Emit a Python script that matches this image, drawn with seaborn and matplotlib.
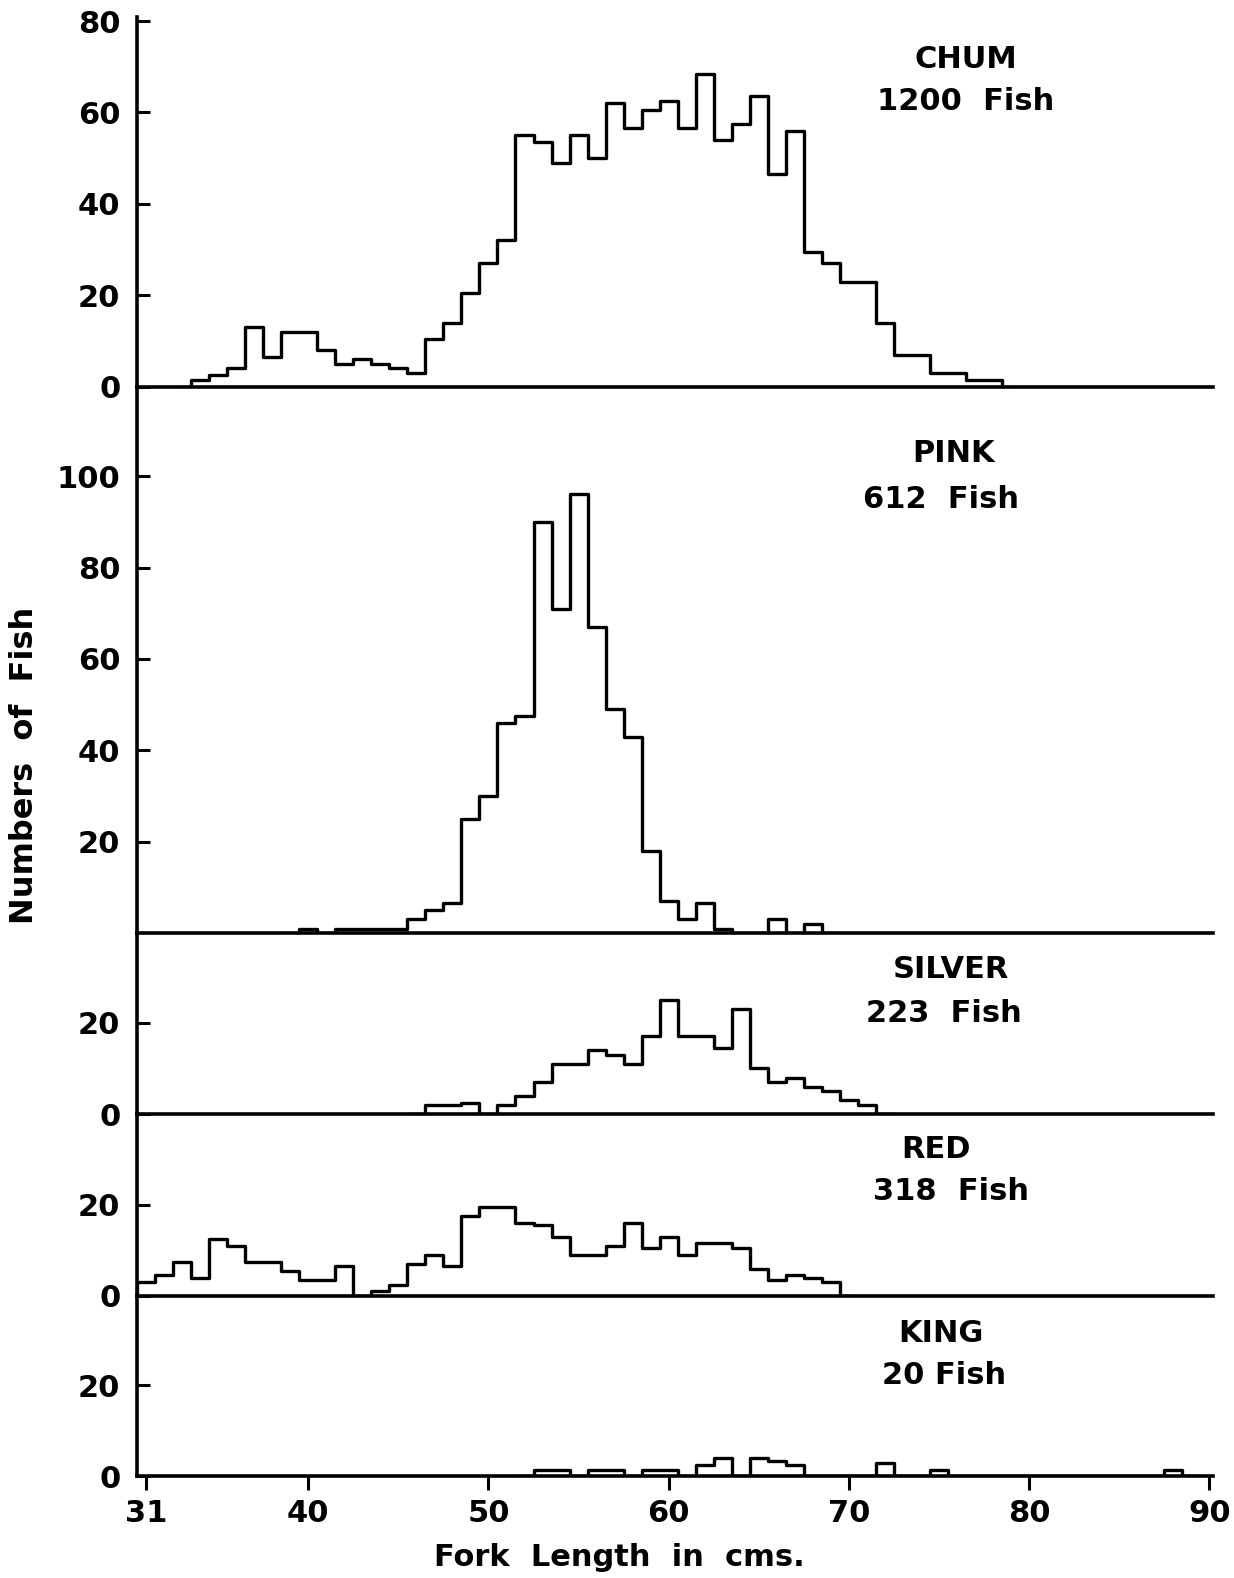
import numpy as np
import pandas as pd
import matplotlib
matplotlib.use("Agg")
import matplotlib.pyplot as plt
import seaborn as sb

# fork length classes (cm, bin centres) and fish counts
chum_len = np.arange(34, 79)
chum_n = [1.5, 2.5, 4, 13, 6.5, 12, 12, 8, 5, 6, 5, 4, 3, 10.5, 14,
          20.5, 27, 32, 55, 53.5, 49, 55, 50, 62, 56.5, 60.5, 62.5, 56.5, 68.5, 54,
          57.5, 63.5, 46.5, 56, 29.5, 27, 23, 23, 14, 7, 7, 3, 3, 1.5, 1.5]

pink_len = np.arange(40, 69)
pink_n = [1, 0, 1, 1, 1, 1, 3, 5, 6.5, 25, 30, 46, 47.5, 90, 71, 96, 67, 49, 43,
          18, 7, 3, 6.5, 1, 0, 0, 3, 0, 2]

silver_len = np.arange(47, 72)
silver_n = [2, 2, 2.5, 0, 2, 4, 7, 11, 11, 14, 13, 11, 17, 25, 17, 17, 14.5, 23,
            10, 7, 8, 6, 5, 3, 2]

red_len = np.arange(31, 70)
red_n = [3, 4.5, 7.5, 4, 12.5, 11, 7.5, 7.5, 5.5, 3.5, 3.5, 6.5, 0, 1, 2.5, 7, 9,
         6.5, 17.5, 19.5, 19.5, 16, 15.5, 13, 9, 9, 11, 16, 10.5, 13, 9, 11.5, 11.5,
         10.5, 6, 3.5, 4.5, 4, 3]

king_len = np.arange(53, 89)
king_n = [1.5, 1.5, 0, 1.5, 1.5, 0, 1.5, 1.5, 0, 2.5, 4, 0, 4, 3.5, 2.5, 0, 0, 0, 0,
          3, 0, 0, 1.5, 0, 0, 0, 0, 0, 0, 0, 0, 0, 0, 0, 0, 1.5]

species = ["CHUM", "PINK", "SILVER", "RED", "KING"]
totals = ["1200  Fish", "612  Fish", "223  Fish", "318  Fish", "20 Fish"]
yticks = [[0, 20, 40, 60, 80], [20, 40, 60, 80, 100], [0, 20], [0, 20], [0, 20]]
xticks = [31, 40, 50, 60, 70, 80, 90]

sb.set_style("ticks")
plt.rcParams['font.family'] = ['DejaVu Sans']
plt.rcParams.update({"text.color": "black", "axes.edgecolor": "black",
                     "xtick.color": "black", "ytick.color": "black",
                     "axes.labelcolor": "black", "font.weight": "bold"})

W, H = 1234, 1578
fig = plt.figure(figsize=(W / 100, H / 100), dpi=100)
ylims = [81, 119.6, 39.6, 39.8, 39.5]
gs = fig.add_gridspec(5, 1, height_ratios=ylims, hspace=0,
                      left=137 / W, right=1213 / W,
                      top=1 - 16.5 / H, bottom=1 - 1476.5 / H)

data = [(chum_len, chum_n), (pink_len, pink_n), (silver_len, silver_n),
        (red_len, red_n), (king_len, king_n)]

for i, (lens, counts) in enumerate(data):
    ax = fig.add_subplot(gs[i])
    # one empty class each side so the outline drops to the baseline
    x = np.concatenate([[lens[0] - 1], lens, [lens[-1] + 1]]).astype(float)
    n = np.concatenate([[0], counts, [0]]).astype(float)
    df = pd.DataFrame({"length": x, "n": n})
    sb.histplot(data=df, x="length", weights="n", binwidth=1,
                binrange=(x[0] - 0.5, x[-1] + 0.5), element="step",
                fill=False, color="black", linewidth=2.4, ax=ax)
    ax.set_xlim(30.5, 90.2)
    ax.set_ylim(0, ylims[i])
    ax.set_yticks(yticks[i])
    ax.set_ylabel("")
    ax.set_xlabel("")
    for s in ["top", "right"]:
        ax.spines[s].set_visible(False)
    ax.spines["left"].set_linewidth(2.6)
    ax.spines["bottom"].set_linewidth(2.6)
    ax.tick_params(axis="y", direction="in", length=9, width=2.2,
                   labelsize=22, pad=12)
    if i < 4:
        ax.tick_params(axis="x", bottom=False, labelbottom=False)
    else:
        ax.set_xticks(xticks)
        ax.tick_params(axis="x", direction="out", length=10, width=2.2,
                       labelsize=22, pad=6)
    ax.patch.set_alpha(0)

# species labels (figure pixel positions)
label_pos = [((966, 60), (966, 102)), ((954, 454), (941, 500)),
             ((951, 969), (944, 1013)), ((936, 1150), (951, 1191)),
             ((941, 1334), (944, 1376))]
for name, tot, (p1, p2) in zip(species, totals, label_pos):
    fig.text(p1[0] / W, 1 - p1[1] / H, name, ha="center", va="center",
             fontsize=22)
    fig.text(p2[0] / W, 1 - p2[1] / H, tot, ha="center", va="center",
             fontsize=22)

fig.text(25 / W, 1 - 765 / H, "Numbers  of  Fish", rotation=90,
         ha="center", va="center", fontsize=23)
fig.text(619 / W, 1 - 1558 / H, "Fork  Length  in  cms.", ha="center",
         va="center", fontsize=22)

fig.savefig("out.png", dpi=100)
